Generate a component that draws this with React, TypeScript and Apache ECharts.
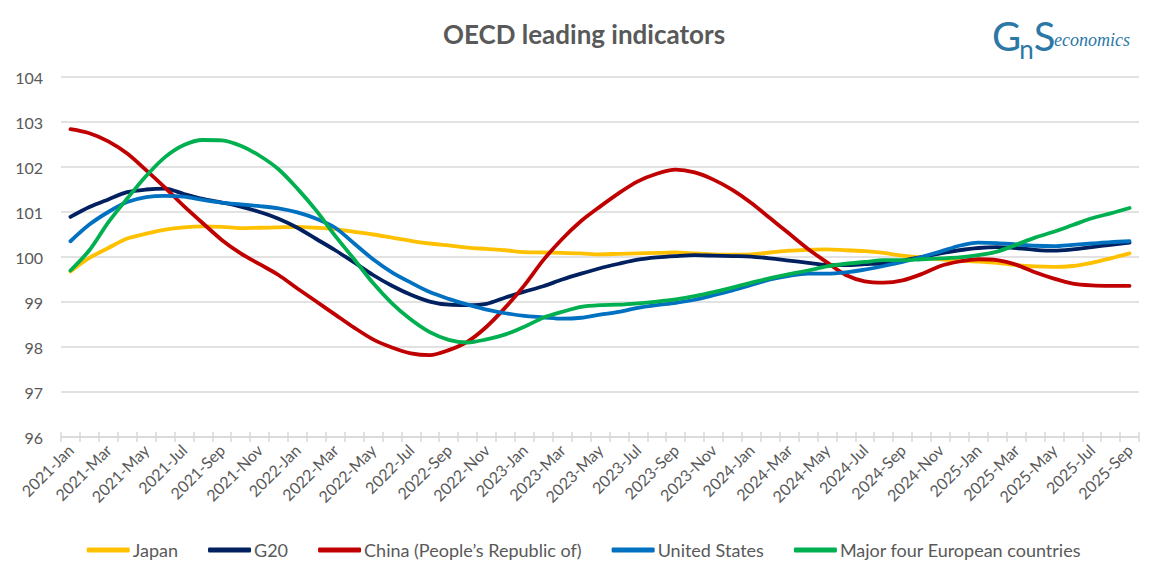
import React, { useEffect, useRef } from "react";
import * as echarts from "echarts";

const years = ["2021", "2022", "2023", "2024", "2025"];
const monthNames = ["Jan", "Feb", "Mar", "Apr", "May", "Jun", "Jul", "Aug", "Sep", "Oct", "Nov", "Dec"];
const categories: string[] = [];
years.forEach((y) => monthNames.forEach((m) => categories.push(`${y}-${m}`)));
categories.splice(57);

const japan = [
  99.68, 99.98, 100.2, 100.41, 100.52, 100.61, 100.66, 100.68, 100.67, 100.64, 100.65, 100.66,
  100.67, 100.65, 100.62, 100.56, 100.5, 100.43, 100.36, 100.3, 100.26, 100.21, 100.18, 100.15,
  100.11, 100.1, 100.09, 100.08, 100.06, 100.07, 100.08, 100.09, 100.1, 100.08, 100.06, 100.05,
  100.06, 100.1, 100.14, 100.16, 100.17, 100.15, 100.13, 100.09, 100.03, 99.99, 99.95, 99.92,
  99.9, 99.87, 99.82, 99.79, 99.78, 99.8, 99.87, 99.97, 100.08,
];
const g20 = [
  100.89, 101.11, 101.28, 101.44, 101.5, 101.52, 101.4, 101.29, 101.21, 101.12, 101.0, 100.85,
  100.65, 100.4, 100.15, 99.88, 99.6, 99.36, 99.16, 99.01, 98.94, 98.93, 98.96, 99.1,
  99.23, 99.35, 99.5, 99.63, 99.75, 99.85, 99.94, 99.99, 100.02, 100.04, 100.03, 100.02,
  100.01, 99.97, 99.92, 99.87, 99.82, 99.82, 99.84, 99.86, 99.92, 100.0, 100.08, 100.15,
  100.2, 100.22, 100.2, 100.16, 100.14, 100.17, 100.22, 100.27, 100.32,
];
const china = [
  102.84, 102.75, 102.57, 102.3, 101.93, 101.54, 101.13, 100.75, 100.38, 100.08, 99.84, 99.6,
  99.3, 99.01, 98.72, 98.43, 98.17, 97.99, 97.86, 97.82, 97.93, 98.12, 98.45, 98.88,
  99.37, 99.93, 100.4, 100.8, 101.12, 101.42, 101.68, 101.85, 101.94, 101.88, 101.72, 101.49,
  101.2, 100.86, 100.52, 100.18, 99.88, 99.6, 99.46, 99.43, 99.48, 99.62, 99.8, 99.9,
  99.95, 99.93, 99.83, 99.66, 99.52, 99.41, 99.37, 99.36, 99.36,
];
const unitedStates = [
  100.35, 100.72, 101.0, 101.22, 101.33, 101.36, 101.34, 101.27, 101.21, 101.17, 101.13, 101.08,
  100.99, 100.85, 100.65, 100.3, 99.95, 99.66, 99.43, 99.22, 99.07, 98.94, 98.83, 98.75,
  98.69, 98.66, 98.63, 98.65, 98.72, 98.78, 98.87, 98.93, 98.98, 99.05, 99.15, 99.26,
  99.38, 99.5, 99.58, 99.63, 99.63, 99.66, 99.72, 99.8, 99.89, 100.0, 100.12, 100.25,
  100.32, 100.31, 100.28, 100.25, 100.24, 100.27, 100.3, 100.33, 100.35,
];
const majorFour = [
  99.7, 100.15, 100.77, 101.3, 101.8, 102.22, 102.49, 102.6, 102.59, 102.47, 102.25, 101.95,
  101.52, 101.03, 100.47, 99.95, 99.42, 98.97, 98.61, 98.33, 98.16, 98.1, 98.17, 98.28,
  98.45, 98.65, 98.78, 98.89, 98.93, 98.94, 98.97, 99.01, 99.06, 99.13, 99.22, 99.32,
  99.43, 99.53, 99.62, 99.7, 99.79, 99.85, 99.89, 99.93, 99.93, 99.95, 99.97, 99.99,
  100.04, 100.12, 100.27, 100.43, 100.56, 100.71, 100.86, 100.97, 101.09,
];

const seriesDefs = [
  { name: "Japan", data: japan, color: "#FFC000" },
  { name: "G20", data: g20, color: "#002060" },
  { name: "China (People\u2019s Republic of)", data: china, color: "#C00000" },
  { name: "United States", data: unitedStates, color: "#0070C0" },
  { name: "Major four European countries", data: majorFour, color: "#00B050" },
];

const FONT = "Lato, 'Open Sans', sans-serif";
const GRAY = "#595959";
const GRID = "#D9D9D9";
const LOGO = "#2B77A6";

export default function App() {
  const ref = useRef<HTMLDivElement>(null);
  useEffect(() => {
    if (!ref.current) return;
    const chart = echarts.init(ref.current, undefined, { renderer: "svg" });
    chart.setOption({
      animation: false,
      backgroundColor: "#FFFFFF",
      textStyle: { fontFamily: FONT },
      title: {
        text: "OECD leading indicators",
        left: "center",
        top: 8,
        textStyle: { fontFamily: FONT, fontSize: 26, fontWeight: "bold", color: GRAY },
      },
      graphic: [
        {
          type: "text",
          left: 984,
          top: 8,
          style: {
            text: "{g|G}{n|n}{g|S}",
            rich: {
              g: { fontSize: 40, fontFamily: FONT, fill: LOGO, verticalAlign: "bottom" },
              n: { fontSize: 26, fontFamily: FONT, fill: LOGO, verticalAlign: "bottom", padding: [0, 0, -6, -2] },
            },
          },
        },
        {
          type: "text",
          left: 1046,
          top: 23,
          style: { text: "economics", font: "italic 18px 'Liberation Serif', serif", fill: LOGO },
        },
      ],
      legend: {
        bottom: 8,
        left: "center",
        itemWidth: 43,
        itemHeight: 5,
        itemGap: 30,
        icon: "roundRect",
        textStyle: { fontFamily: FONT, fontSize: 18, color: GRAY, padding: [0, 0, 0, -2] },
        data: seriesDefs.map((s) => s.name),
      },
      grid: { left: 53, right: 21, top: 69, bottom: 135, containLabel: false },
      xAxis: [
        {
          type: "category",
          data: categories,
          boundaryGap: true,
          axisLine: { lineStyle: { color: GRID, width: 1.5 } },
          axisTick: { show: true, alignWithLabel: false, interval: 0, length: 5, lineStyle: { color: GRID, width: 1.5 } },
          axisLabel: {
            interval: 1,
            rotate: 45,
            fontFamily: FONT,
            fontSize: 16,
            color: GRAY,
            margin: 10,
          },
          splitLine: { show: false },
        },
        {
          type: "category",
          data: categories,
          position: "bottom",
          boundaryGap: true,
          axisLine: { show: false },
          axisTick: { show: true, inside: true, interval: 0, length: 5, lineStyle: { color: GRID, width: 1.5 } },
          axisLabel: { show: false },
          splitLine: { show: false },
        },
      ],
      yAxis: {
        type: "value",
        min: 96,
        max: 104,
        interval: 1,
        axisLine: { show: false },
        axisTick: { show: false },
        axisLabel: { fontFamily: FONT, fontSize: 16, color: GRAY, margin: 18 },
        splitLine: { lineStyle: { color: GRID, width: 1.5 } },
      },
      series: seriesDefs.map((s) => ({
        name: s.name,
        type: "line",
        data: s.data,
        smooth: 0.3,
        showSymbol: false,
        symbol: "none",
        color: s.color,
        lineStyle: { color: s.color, width: 3.8, cap: "round" },
        itemStyle: { color: s.color },
      })),
    });
    return () => chart.dispose();
  }, []);
  return <div ref={ref} style={{ width: 1152, height: 564 }} />;
}
